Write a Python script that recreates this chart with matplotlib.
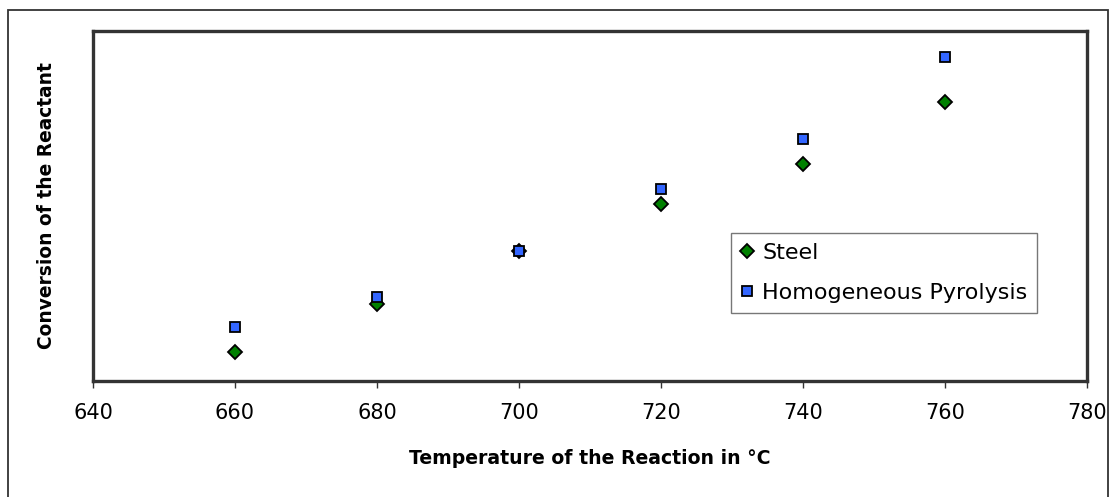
import matplotlib
matplotlib.use("Agg")
import matplotlib.pyplot as plt
from matplotlib.patches import Rectangle

temps = [660, 680, 700, 720, 740, 760]
steel = [8.3, 22.0, 37.1, 50.6, 62.0, 79.7]
homog = [15.4, 24.0, 37.1, 54.9, 69.1, 92.6]
xticks = [640, 660, 680, 700, 720, 740, 760, 780]

plt.rcParams['font.family'] = ['DejaVu Sans']

W, H = 1110, 497
fig = plt.figure(figsize=(W / 100, H / 100), dpi=100)
x0, x1, y0, y1 = 93, 1087, 31, 381
ax = fig.add_axes([x0 / W, 1 - y1 / H, (x1 - x0) / W, (y1 - y0) / H])

ax.plot(temps, steel, linestyle='none', marker='D', markersize=7.2,
        markerfacecolor='#008000', markeredgecolor='black', markeredgewidth=1.3,
        label='Steel')
ax.plot(temps, homog, linestyle='none', marker='s', markersize=7.5,
        markerfacecolor='#3366FF', markeredgecolor='black', markeredgewidth=1.3,
        label='Homogeneous Pyrolysis')

ax.set_xlim(640, 780)
ax.set_ylim(0, 100)
ax.set_xticks(xticks)
ax.set_xticklabels([str(t) for t in xticks], fontsize=15)
ax.set_yticks([])
ax.tick_params(axis='x', direction='out', length=5, width=1, color='#333333', pad=11)
for s in ax.spines.values():
    s.set_linewidth(2.4)
    s.set_color('#333333')

ax.set_xlabel('Temperature of the Reaction in °C', fontsize=13.6, fontweight='bold',
              va='center')
ax.xaxis.set_label_coords(0.5, -(459 - y1) / (y1 - y0))
ax.set_ylabel('Conversion of the Reactant', fontsize=13.4, fontweight='bold', va='center')
ax.yaxis.set_label_coords(-(x0 - 47) / (x1 - x0), 0.5)

leg = ax.legend(loc='upper left', bbox_to_anchor=((731 - x0) / (x1 - x0), 1 - (233 - y0) / (y1 - y0)),
                fontsize=16, frameon=True, fancybox=False, handlelength=0.55,
                handletextpad=0.4, borderpad=0.45, labelspacing=0.9, borderaxespad=0)
leg.get_frame().set_edgecolor('#555555')
leg.get_frame().set_linewidth(1.0)

rect = Rectangle((8 / W, -0.02), 1100 / W, (H - 10) / H + 0.02, transform=fig.transFigure,
                 fill=False, edgecolor='#333333', linewidth=1.3, clip_on=False)
fig.patches.append(rect)

fig.savefig('out.png', dpi=100)
